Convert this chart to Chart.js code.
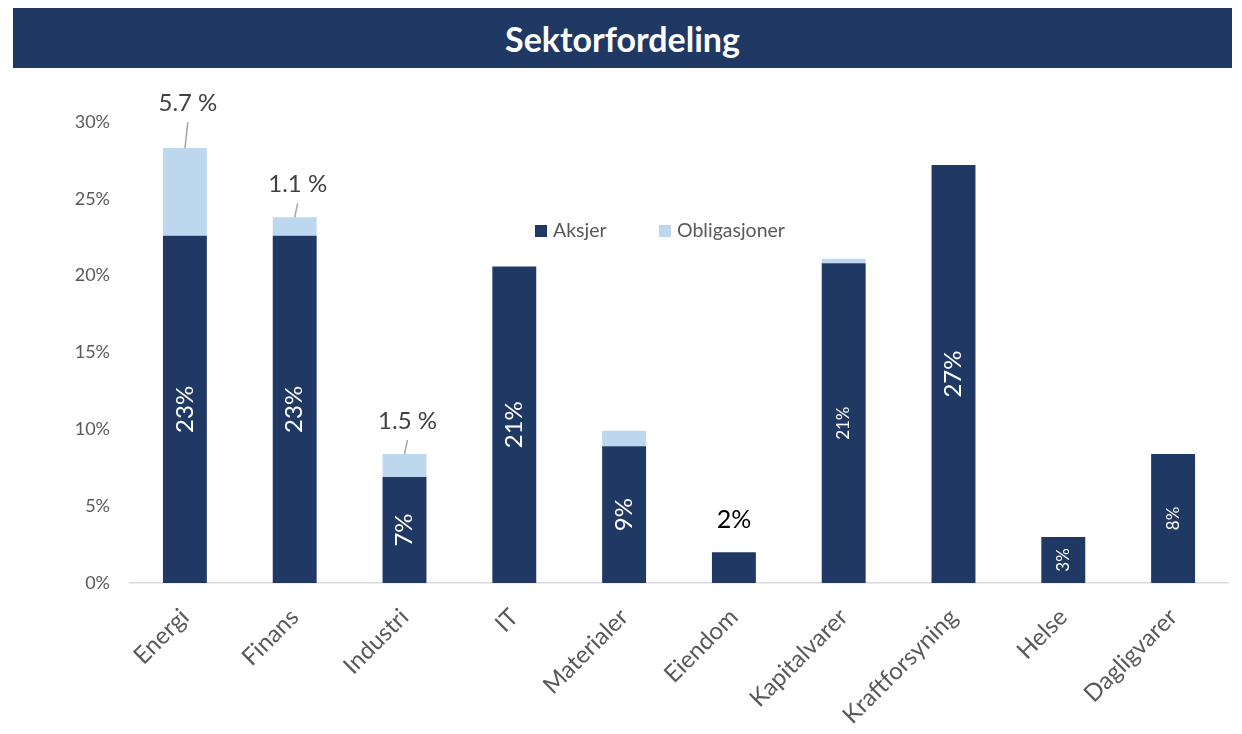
<!DOCTYPE html>
<html>
<head>
<meta charset="utf-8">
<script src="https://cdn.jsdelivr.net/npm/chart.js@4"></script>
<style>
  html, body { margin: 0; padding: 0; background: #fff; }
  #wrap { position: relative; width: 1242px; height: 734px; }
  #title {
    position: absolute; left: 13px; top: 8px; width: 1219px; height: 60px;
    background: #203864; color: #fff; font: bold 34px Lato, sans-serif;
    display: flex; align-items: center; justify-content: center;
  }
  canvas { position: absolute; left: 0; top: 0; }
</style>
</head>
<body>
<div id="wrap">
  <div id="title">Sektorfordeling</div>
  <canvas id="chart" width="1242" height="734"></canvas>
</div>
<script>
const sectors = ["Energi", "Finans", "Industri", "IT", "Materialer", "Eiendom", "Kapitalvarer", "Kraftforsyning", "Helse", "Dagligvarer"];
const aksjer = [22.6, 22.6, 6.9, 20.6, 8.9, 2.0, 20.8, 27.2, 3.0, 8.4];
const obligasjoner = [5.7, 1.2, 1.5, 0, 1.0, 0, 0.3, 0, 0, 0];
const aksjerLabels = ["23%", "23%", "7%", "21%", "9%", "2%", "21%", "27%", "3%", "8%"];
const oblLabels = ["5.7 %", "1.1 %", "1.5 %", null, null, null, null, null, null, null];
const yTicks = [0, 5, 10, 15, 20, 25, 30];

const NAVY = "#203864";
const LIGHT = "#BDD7EE";
const FONT = "Lato, sans-serif";

// small labels for the narrow-font bars, Eiendom label sits above the bar
const smallIdx = [6, 8, 9];
const aboveIdx = [5];
const oblLift = { 0: 45 };

const labelPlugin = {
  id: "barLabels",
  afterDatasetsDraw(chart) {
    const ctx = chart.ctx;
    const metaA = chart.getDatasetMeta(0);
    const metaO = chart.getDatasetMeta(1);
    ctx.save();
    metaA.data.forEach((bar, i) => {
      const txt = aksjerLabels[i];
      if (!txt) return;
      if (aboveIdx.includes(i)) {
        ctx.fillStyle = "#000";
        ctx.font = "25px " + FONT;
        ctx.textAlign = "center";
        ctx.textBaseline = "middle";
        ctx.fillText(txt, bar.x, bar.y - 32);
        return;
      }
      const cy = (bar.y + bar.base) / 2;
      ctx.save();
      ctx.translate(bar.x, cy);
      ctx.rotate(-Math.PI / 2);
      ctx.fillStyle = "#fff";
      ctx.font = (smallIdx.includes(i) ? "17px " : "24px ") + FONT;
      ctx.textAlign = "center";
      ctx.textBaseline = "middle";
      ctx.fillText(txt, 0, 0);
      ctx.restore();
    });
    metaO.data.forEach((bar, i) => {
      const txt = oblLabels[i];
      if (!txt) return;
      const lift = oblLift[i] || 33;
      const ly = bar.y - lift;
      ctx.fillStyle = "#404040";
      ctx.font = "24px " + FONT;
      ctx.textAlign = "center";
      ctx.textBaseline = "middle";
      ctx.fillText(txt, bar.x + 3, ly);
      ctx.strokeStyle = "#A6A6A6";
      ctx.lineWidth = 1.5;
      ctx.beginPath();
      ctx.moveTo(bar.x + 3, ly + 19);
      ctx.lineTo(bar.x, bar.y);
      ctx.stroke();
    });
    // legend inside plot area
    ctx.font = "19.5px " + FONT;
    ctx.textAlign = "left";
    ctx.textBaseline = "middle";
    const items = [[chart.data.datasets[0], 535], [chart.data.datasets[1], 659]];
    items.forEach(([ds, x]) => {
      ctx.fillStyle = ds.backgroundColor;
      ctx.fillRect(x, 225, 12, 12);
      ctx.fillStyle = "#595959";
      ctx.fillText(ds.label, x + 18, 231);
    });
    ctx.restore();
  }
};

new Chart(document.getElementById("chart"), {
  type: "bar",
  data: {
    labels: sectors,
    datasets: [
      { label: "Aksjer", data: aksjer, backgroundColor: NAVY, borderWidth: 0 },
      { label: "Obligasjoner", data: obligasjoner, backgroundColor: LIGHT, borderWidth: 0 }
    ]
  },
  options: {
    responsive: false,
    animation: false,
    devicePixelRatio: 1,
    layout: { padding: { left: 0, right: 14, top: 122, bottom: 0 } },
    datasets: { bar: { barPercentage: 0.4, categoryPercentage: 1.0 } },
    plugins: {
      legend: { display: false },
      tooltip: { enabled: false },
      title: { display: false }
    },
    scales: {
      x: {
        stacked: true,
        grid: { display: false, drawTicks: false },
        border: { display: true, color: "#D9D9D9", width: 1.5 },
        ticks: {
          color: "#595959",
          font: { family: FONT, size: 24 },
          maxRotation: 45,
          minRotation: 45,
          padding: 20
        },
        afterFit(axis) { axis.height = 151; }
      },
      y: {
        stacked: true,
        min: 0,
        max: 30,
        afterBuildTicks(axis) { axis.ticks = yTicks.map(v => ({ value: v })); },
        grid: { display: false, drawTicks: false },
        border: { display: false },
        ticks: {
          color: "#595959",
          font: { family: FONT, size: 18 },
          padding: 20,
          callback: v => v + "%"
        },
        afterFit(axis) { axis.width = 130; }
      }
    }
  },
  plugins: [labelPlugin]
});
</script>
</body>
</html>
